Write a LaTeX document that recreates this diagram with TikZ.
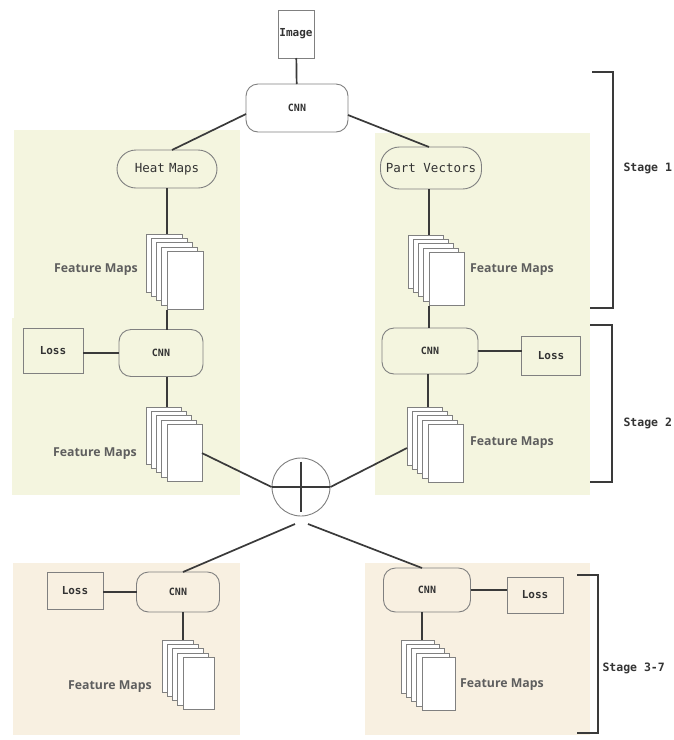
\documentclass[tikz,border=0pt]{standalone}
\usepackage{fontspec}
\newfontfamily\monofont{DejaVu Sans Mono}
\newfontfamily\labelfont{Open Sans}
\definecolor{wirec}{HTML}{3A3A3A}
\definecolor{boxc}{HTML}{808080}
\definecolor{txtc}{HTML}{333333}
\definecolor{fmtxt}{HTML}{5E5E5E}
\definecolor{panelA}{HTML}{F4F5DF}
\definecolor{panelB}{HTML}{F8F0E1}
\tikzset{
  wire/.style={draw=wirec, line width=1.7pt},
  bracketline/.style={draw=wirec, line width=1.8pt},
  plainbox/.style={draw=boxc, line width=0.9pt, inner sep=0pt, outer sep=0pt,
    text=txtc, font=\monofont\bfseries\fontsize{11}{12}\selectfont},
  cnnbox/.style={plainbox, rounded corners=12pt, font=\monofont\bfseries\fontsize{10}{11}\selectfont},
  outbox/.style={plainbox, rounded corners=19pt, font=\monofont\fontsize{12.5}{14}\selectfont},
  sheet/.style={draw=boxc, fill=white, line width=0.8pt, inner sep=0pt, outer sep=0pt, anchor=north west},
  fmlabel/.style={text=fmtxt, inner sep=0pt, font=\labelfont\bfseries\fontsize{12.3}{14}\selectfont},
  stagelabel/.style={text=txtc, anchor=west, font=\monofont\bfseries\fontsize{11.5}{13}\selectfont},
}
% five stacked sheets: name, back-left x, back-top y, width, height
\newcommand\sheetstack[5]{%
  \foreach \k in {1,...,5}{%
    \node[sheet, minimum width=#4pt, minimum height=#5pt]
      (#1-\k) at ({#2+(\k-1)*5.25},{#3+(\k-1)*4.4}) {};
  }%
}
\begin{document}
\begin{tikzpicture}[x=1pt,y=-1pt]
\useasboundingbox[fill=white] (0,0) rectangle (674,740);

% stage panels
\fill[panelA] (14,130) rectangle (240,320);
\fill[panelA] (375,133) rectangle (590,321);
\fill[panelA] (12,318) rectangle (240,495);
\fill[panelA] (375,319) rectangle (590,495);
\fill[panelB] (13,563) rectangle (240,735);
\fill[panelB] (365,563) rectangle (590,735);

% input and first network
\node[plainbox, fill=white, minimum width=36pt, minimum height=48pt,
  font=\monofont\bfseries\fontsize{11}{12}\selectfont] (img) at (296,34) {Image};
\node[cnnbox, fill=white, minimum width=102pt, minimum height=48pt] (cnn0) at (297,108) {CNN};
\draw[wire] (img) -- (cnn0);

% stage 1 outputs
\node[outbox, minimum width=100pt, minimum height=38pt] (heat) at (167,169) {Heat\,\,Maps};
\node[outbox, minimum width=101pt, minimum height=42pt] (part) at (431,168) {Part Vectors};
\draw[wire] ([yshift=-6pt]cnn0.west) -- ([xshift=5pt]heat.north);
\draw[wire] ([yshift=-7pt]cnn0.east) -- ([xshift=-2pt]part.north);

\sheetstack{fl}{146}{234}{36}{58}
\sheetstack{fr}{408}{235}{35}{53}
\node[fmlabel, anchor=east] (fll) at (138,270) {Feature Maps};
\node[fmlabel, anchor=west] (frl) at (470,270) {Feature Maps};
\draw[wire] (heat.south -| fl-5.north west) -- (fl-1.north -| fl-5.north west);
\draw[wire] (part.south -| fr-5.north west) -- (fr-1.north -| fr-5.north west);

% stage 2
\node[cnnbox, minimum width=84pt, minimum height=47pt] (cnnl) at (161,353) {CNN};
\node[plainbox, minimum width=60pt, minimum height=45pt] (lossl) at (53,351) {Loss};
\node[cnnbox, minimum width=96pt, minimum height=46pt] (cnnr) at (430,351) {CNN};
\node[plainbox, minimum width=59pt, minimum height=39pt] (lossr) at (551,356) {Loss};
\draw[wire] (fl-5.south west) -- (fl-5.south west |- cnnl.north);
\draw[wire] (fr-5.south west) -- (fr-5.south west |- cnnr.north);
\draw[wire] (lossl.east |- cnnl) -- (cnnl.west);
\draw[wire] (cnnr.east) -- (lossr.west |- cnnr);

\sheetstack{gl}{146}{407}{35}{57}
\sheetstack{gr}{407}{407}{35}{58}
\node[fmlabel, anchor=east] (gll) at (137,454) {Feature Maps};
\node[fmlabel, anchor=west] (grl) at (470,443) {Feature Maps};
\draw[wire] (cnnl.south -| gl-5.north west) -- (gl-1.north -| gl-5.north west);
\draw[wire] (cnnr.south -| gr-5.north west) -- (gr-1.north -| gr-5.north west);

% combination
\node[circle, draw=boxc, line width=0.9pt, minimum size=58pt, inner sep=0pt] (sum) at (301,487) {};
\draw[wire, line width=1.4pt] (sum.west) -- (sum.east);
\draw[wire, line width=1.4pt] ([yshift=-4pt]sum.north) -- ([yshift=4pt]sum.south);
\draw[wire] (gl-5.east) -- (sum.west);
\draw[wire] (sum.east) -- ([yshift=-12pt]gr-1.west);

% stages 3-7
\coordinate (splitl) at (295,524);
\coordinate (splitr) at (308,524);
\node[cnnbox, minimum width=83pt, minimum height=40pt] (cnnl3) at (178,592) {CNN};
\node[plainbox, minimum width=56pt, minimum height=37pt] (lossl3) at (75,591) {Loss};
\node[cnnbox, minimum width=87pt, minimum height=44pt] (cnnr3) at (427,590) {CNN};
\node[plainbox, minimum width=56pt, minimum height=36pt] (lossr3) at (535,595) {Loss};
\draw[wire] (splitl) -- ([xshift=5pt]cnnl3.north);
\draw[wire] (splitr) -- ([xshift=-5pt]cnnr3.north);
\draw[wire] (lossl3.east |- cnnl3) -- (cnnl3.west);
\draw[wire] (cnnr3.east) -- (lossr3.west |- cnnr3);

\sheetstack{hl}{162}{640}{31}{52}
\sheetstack{hr}{401}{640}{33}{53}
\node[fmlabel, anchor=east] (hll) at (152,687) {Feature Maps};
\node[fmlabel, anchor=west] (hrl) at (460,685) {Feature Maps};
\draw[wire] (cnnl3.south -| hl-5.north west) -- (hl-1.north -| hl-5.north west);
\draw[wire] (cnnr3.south -| hr-5.north west) -- (hr-1.north -| hr-5.north west);

% stage brackets
\node[stagelabel] (s1) at (620,168) {Stage 1};
\node[stagelabel] (s2) at (620,423) {Stage 2};
\node[stagelabel] (s3) at (599,668) {Stage 3-7};
\draw[bracketline] (592,72) -- (613,72) -- (613,308) -- (590,308);
\draw[bracketline] (590,325) -- (612,325) -- (612,482) -- (590,482);
\draw[bracketline] (577,575) -- (598,575) -- (598,733) -- (577,733);
\end{tikzpicture}
\end{document}
